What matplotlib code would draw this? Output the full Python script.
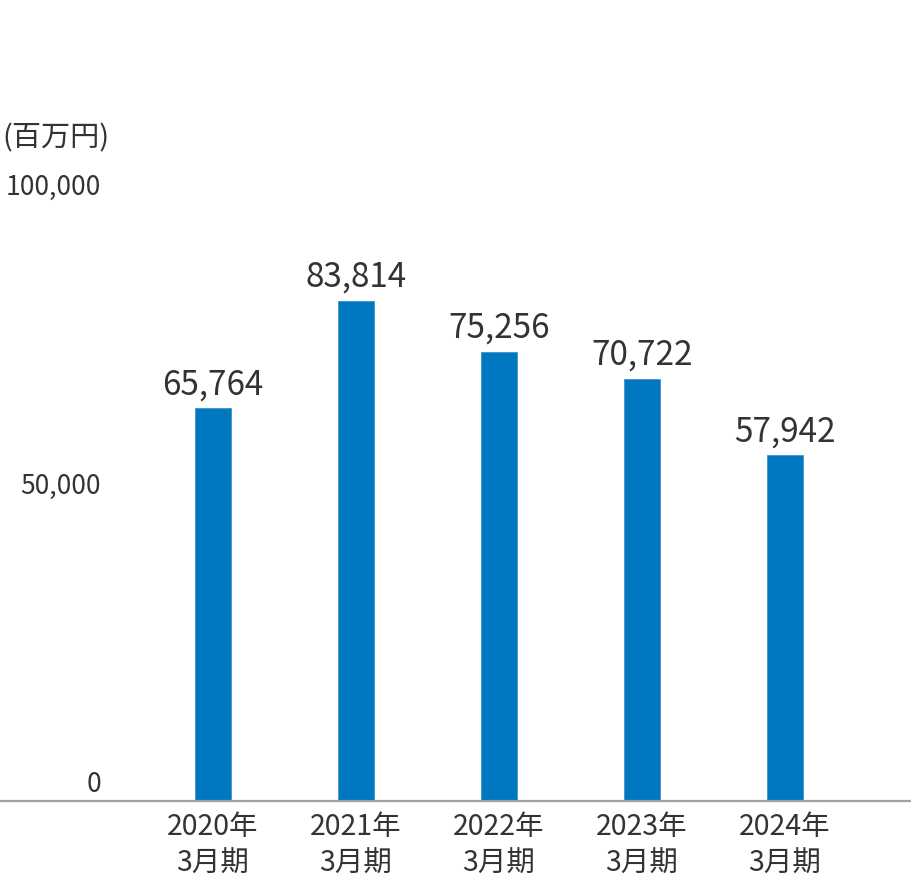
import matplotlib.pyplot as plt

plt.rcParams['font.family'] = ['Noto Sans CJK JP', 'DejaVu Sans']

# data
years = ['2020年', '2021年', '2022年', '2023年', '2024年']
periods = ['3月期', '3月期', '3月期', '3月期', '3月期']
sales = [65764, 83814, 75256, 70722, 57942]
yticks = [0, 50000, 100000]
unit = '(百万円)'

text_color = '#333333'
bar_color = '#0078C1'

fig = plt.figure(figsize=(9.12, 8.82), dpi=100)
ax = fig.add_axes([0, 81 / 882, 1, 597 / 882])

x = list(range(len(sales)))
ax.bar(x, sales, width=0.25, color=bar_color, edgecolor='#3d95cd', linewidth=0.6, zorder=2)

ax.set_xlim(-1.49, 4.89)
ax.set_ylim(0, 100000)

for s in ['top', 'right', 'left']:
    ax.spines[s].set_visible(False)
ax.spines['bottom'].set_color('#a0a0a0')
ax.spines['bottom'].set_linewidth(1.6)
ax.set_xticks([])
ax.set_yticks([])

# value labels above bars
for i, v in enumerate(sales):
    ax.annotate(f'{v:,}', xy=(i, v), xytext=(0, 10), textcoords='offset points',
                ha='center', va='baseline', fontsize=24, color=text_color)

# category labels under the axis (baseline of the last line)
for i, (yr, p) in enumerate(zip(years, periods)):
    ax.annotate(yr + '\n' + p, xy=(i, 0), xytext=(0, -51), textcoords='offset points',
                ha='center', va='baseline', fontsize=20.5, color=text_color,
                linespacing=1.3, annotation_clip=False)

# y tick labels, drawn just above their level
for t in yticks:
    ax.annotate(f'{t:,}', xy=(101 / 912, t), xycoords=('axes fraction', 'data'),
                xytext=(0, 6.5), textcoords='offset points',
                ha='right', va='baseline', fontsize=19, color=text_color,
                annotation_clip=False)

fig.text(2 / 912, 1 - 146 / 882, unit, ha='left', va='baseline', fontsize=21, color=text_color)

fig.savefig('out.png', dpi=100)
